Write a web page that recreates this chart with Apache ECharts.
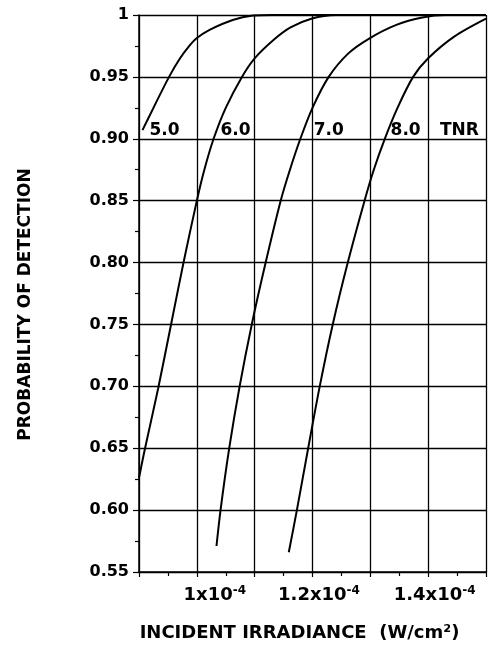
<!DOCTYPE html>
<html>
<head>
<meta charset="utf-8">
<script src="https://cdn.jsdelivr.net/npm/echarts@6/dist/echarts.min.js"></script>
<style>
  html, body { margin: 0; padding: 0; background: #fff; }
  #chart { width: 489px; height: 648px; }
</style>
</head>
<body>
<div id="chart"></div>
<script>
// Incident irradiance in units of 1e-4 W/cm^2 and probability of detection,
// one pair of arrays per threshold-to-noise ratio (TNR) curve.
const tnr5Irr = [0.906, 0.925, 0.952, 0.971, 0.987, 0.999, 1.022, 1.062, 1.097, 1.13, 1.5];
const tnr5Pd  = [0.907, 0.925, 0.950, 0.965, 0.975, 0.981, 0.988, 0.996, 0.9995, 1.0, 1.0];

const tnr6Irr = [0.900, 0.910, 0.933, 0.955, 0.977, 1.000, 1.013, 1.029, 1.050, 1.078, 1.100, 1.133, 1.162, 1.198, 1.24, 1.5];
const tnr6Pd  = [0.626, 0.649, 0.698, 0.749, 0.800, 0.850, 0.875, 0.900, 0.925, 0.950, 0.965, 0.980, 0.990, 0.997, 1.0, 1.0];

const tnr7Irr = [1.034, 1.041, 1.056, 1.074, 1.095, 1.119, 1.145, 1.161, 1.179, 1.200, 1.228, 1.262, 1.298, 1.345, 1.39, 1.43, 1.5];
const tnr7Pd  = [0.571, 0.600, 0.650, 0.700, 0.750, 0.800, 0.850, 0.875, 0.900, 0.925, 0.950, 0.969, 0.981, 0.992, 0.998, 1.0, 1.0];

const tnr8Irr = [1.159, 1.173, 1.1925, 1.2125, 1.235, 1.261, 1.290, 1.306, 1.325, 1.347, 1.374, 1.400, 1.445, 1.500];
const tnr8Pd  = [0.566, 0.600, 0.650, 0.700, 0.750, 0.800, 0.850, 0.875, 0.900, 0.925, 0.950, 0.965, 0.9825, 0.997];

// Curve labels, set along the 0.90 line
const curveLabels   = ['5.0', '6.0', '7.0', '8.0', 'TNR'];
const curveLabelIrr = [0.944, 1.067, 1.228, 1.361, 1.454];
const curveLabelPd  = 0.90;

// Axis ticks
const xLabelTicks = [1.0, 1.2, 1.4];
const xLabelText  = ['1x10', '1.2x10', '1.4x10'];
const xLabelExp   = '-4';

const FONT = '"DejaVu Sans", sans-serif';

function zip(xs, ys) { return xs.map((x, i) => [x, ys[i]]); }

function curve(name, xs, ys) {
  return {
    name: name,
    type: 'line',
    data: zip(xs, ys),
    showSymbol: false,
    smooth: 0.3,
    clip: true,
    lineStyle: { color: '#000', width: 2 },
    silent: true,
    z: 3
  };
}

const chart = echarts.init(document.getElementById('chart'), null, { renderer: 'canvas' });

chart.setOption({
  animation: false,
  backgroundColor: '#fff',
  textStyle: { fontFamily: FONT },
  grid: { left: 139, top: 15, width: 350, height: 557, containLabel: false },
  xAxis: {
    type: 'value',
    min: 0.9,
    max: 1.5,
    interval: 0.1,
    name: 'INCIDENT IRRADIANCE  (W/cm\u00B2)',
    nameLocation: 'middle',
    nameGap: 52,
    nameTextStyle: { color: '#000', fontSize: 18, fontWeight: 'bold', fontFamily: FONT, padding: [0, 26, 0, 0] },
    axisLine: { show: true, lineStyle: { color: '#000', width: 1.5 } },
    axisTick: { show: true, length: 5, lineStyle: { color: '#000', width: 1.2 } },
    minorTick: { show: true, splitNumber: 2, length: 4, lineStyle: { color: '#000', width: 1.2 } },
    splitLine: { show: true, lineStyle: { color: '#000', width: 1.3 } },
    axisLabel: {
      margin: 13,
      color: '#000',
      formatter: function (v) {
        for (let i = 0; i < xLabelTicks.length; i++) {
          if (Math.abs(v - xLabelTicks[i]) < 1e-6) {
            const key = i === 0 ? 'm1' : 'm';
            return '{' + key + '|' + xLabelText[i] + '}{s|' + xLabelExp + '}';
          }
        }
        return '';
      },
      rich: {
        m1: { fontSize: 18, fontWeight: 'bold', fontFamily: FONT, color: '#000', lineHeight: 20, padding: [0, 0, 0, 36] },
        m:  { fontSize: 18, fontWeight: 'bold', fontFamily: FONT, color: '#000', lineHeight: 20, padding: [0, 0, 0, 13] },
        s:  { fontSize: 12, fontWeight: 'bold', fontFamily: FONT, color: '#000', lineHeight: 12, verticalAlign: 'top' }
      }
    }
  },
  yAxis: {
    type: 'value',
    min: 0.55,
    max: 1,
    interval: 0.05,
    name: 'PROBABILITY OF DETECTION',
    nameLocation: 'middle',
    nameGap: 105,
    nameTextStyle: { color: '#000', fontSize: 17, fontWeight: 'bold', fontFamily: FONT, padding: [0, 22, 0, 0] },
    axisLine: { show: true, lineStyle: { color: '#000', width: 1.5 } },
    axisTick: { show: true, length: 6, lineStyle: { color: '#000', width: 1.2 } },
    minorTick: { show: true, splitNumber: 2, length: 4, lineStyle: { color: '#000', width: 1.2 } },
    splitLine: { show: true, lineStyle: { color: '#000', width: 1.3 } },
    axisLabel: {
      margin: 10,
      color: '#000',
      fontSize: 16,
      fontWeight: 'bold',
      fontFamily: FONT,
      formatter: function (v) {
        return Math.abs(v - 1) < 1e-6 ? '1' : v.toFixed(2);
      }
    }
  },
  series: [
    curve('TNR 5.0', tnr5Irr, tnr5Pd),
    curve('TNR 6.0', tnr6Irr, tnr6Pd),
    curve('TNR 7.0', tnr7Irr, tnr7Pd),
    curve('TNR 8.0', tnr8Irr, tnr8Pd),
    {
      name: 'labels',
      type: 'scatter',
      symbolSize: 0,
      silent: true,
      z: 4,
      itemStyle: { opacity: 1 },
      data: curveLabels.map((t, i) => ({ value: [curveLabelIrr[i], curveLabelPd], name: t })),
      label: {
        show: true,
        position: 'top',
        distance: 0,
        formatter: p => p.name,
        color: '#000',
        opacity: 1,
        textBorderWidth: 0,
        fontSize: 17,
        fontWeight: 'bold',
        fontFamily: FONT
      }
    }
  ]
});
</script>
</body>
</html>
